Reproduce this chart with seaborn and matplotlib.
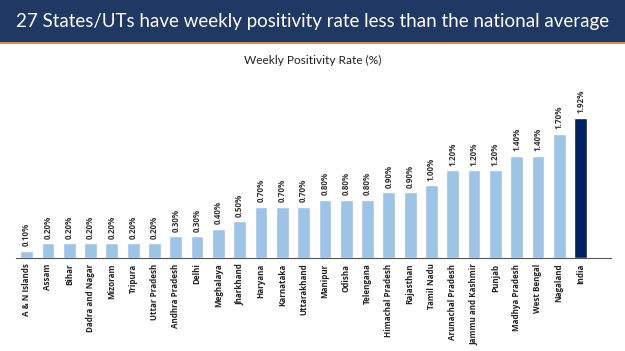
import pandas as pd
import seaborn as sns
from matplotlib import pyplot as plt
from matplotlib.patches import Rectangle
import numpy as np

# data
states = ['A & N Islands', 'Assam', 'Bihar', 'Dadra and Nagar', 'Mizoram', 'Tripura',
          'Uttar Pradesh', 'Andhra Pradesh', 'Delhi', 'Meghalaya', 'Jharkhand', 'Haryana',
          'Karnataka', 'Uttarakhand', 'Manipur', 'Odisha', 'Telengana', 'Himachal Pradesh',
          'Rajasthan', 'Tamil Nadu', 'Arunachal Pradesh', 'Jammu and Kashmir', 'Punjab',
          'Madhya Pradesh', 'West Bengal', 'Nagaland', 'India']
rates = [0.10, 0.20, 0.20, 0.20, 0.20, 0.20, 0.20, 0.30, 0.30, 0.40, 0.50, 0.70,
         0.70, 0.70, 0.80, 0.80, 0.80, 0.90, 0.90, 1.00, 1.20, 1.20, 1.20, 1.40,
         1.40, 1.70, 1.92]
kind = ['state'] * (len(states) - 1) + ['national']

title = '27 States/UTs have weekly positivity rate less than the national average'
subtitle = 'Weekly Positivity Rate (%)'

df = pd.DataFrame({'state': states, 'rate': rates, 'kind': kind})

sns.set_style('white')
plt.rcParams['font.family'] = ['Open Sans', 'DejaVu Sans']

fig = plt.figure(figsize=(6.25, 3.51), dpi=100)

# title banner
fig.patches.append(Rectangle((0, 1 - 42 / 351), 1, 42 / 351, transform=fig.transFigure,
                             facecolor='#1F3864', edgecolor='none', zorder=0))
fig.patches.append(Rectangle((0, 1 - 44 / 351), 1, 2 / 351, transform=fig.transFigure,
                             facecolor='#E08A4E', edgecolor='none', zorder=0))
fig.text(0.5, 1 - 21 / 351, title, ha='center', va='center', color='white',
         fontsize=13.5, family=['Lato', 'DejaVu Sans'])
fig.text(0.5, 1 - 60 / 351, subtitle, ha='center', va='center', color='#222222',
         fontsize=8.6, family=['Lato', 'DejaVu Sans'])

ax = fig.add_axes([16 / 625, 1 - 258 / 351, 595 / 625, 168 / 351])
sns.barplot(data=df, x='state', y='rate', hue='kind', dodge=False, width=0.6,
            palette={'state': '#9DC3E6', 'national': '#002060'}, saturation=1,
            legend=False, ax=ax)

for i, v in enumerate(rates):
    ax.text(i, v + 0.06, '{:.2f}%'.format(v), rotation=90, ha='center', va='bottom',
            fontsize=5.8, fontweight='bold', color='#333333')

ax.set_xlim(-0.37, 27.43)
ax.set_ylim(0, 2.3)
ax.set_xlabel('')
ax.set_ylabel('')
ax.set_yticks([])
for s in ['top', 'right', 'left']:
    ax.spines[s].set_visible(False)
ax.spines['bottom'].set_color('#555555')
ax.spines['bottom'].set_linewidth(0.8)

ax.set_xticks(range(len(states)))
ax.set_xticklabels(states, rotation=90, fontsize=5.8, fontweight='bold', color='#222222')
ax.tick_params(axis='x', which='major', length=0, pad=4)
ax.set_xticks(np.arange(-0.5, len(states), 1), minor=True)
ax.tick_params(axis='x', which='minor', length=3, color='#555555', width=0.6, direction='out')

fig.savefig('out.png', dpi=100)
